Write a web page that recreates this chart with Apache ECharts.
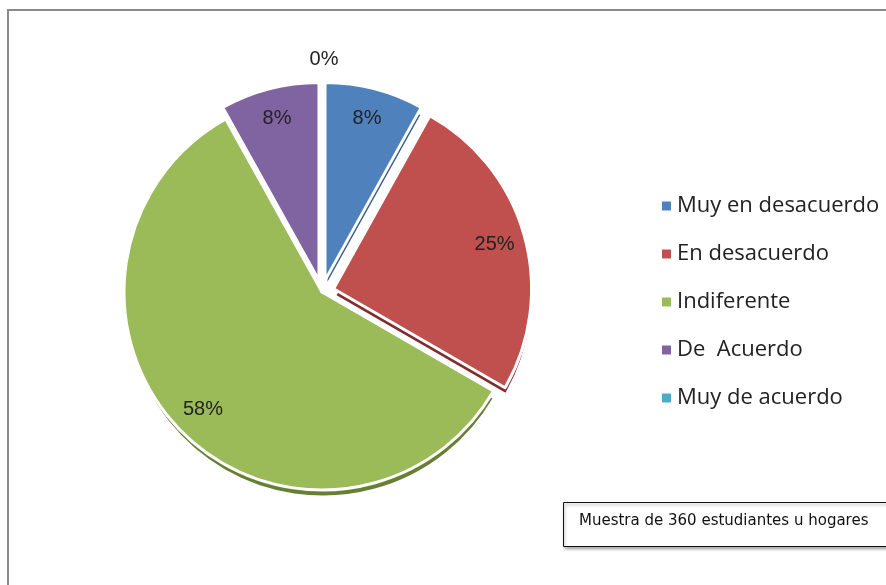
<!DOCTYPE html>
<html>
<head>
<meta charset="utf-8">
<style>
  html, body { margin: 0; padding: 0; background: #fff; }
  #chart { width: 886px; height: 585px; }
</style>
<script src="https://cdn.jsdelivr.net/npm/echarts@6/dist/echarts.min.js"></script>
</head>
<body>
<div id="chart"></div>
<script>
  // categorias y valores (%)
  var categories = ['Muy en desacuerdo', 'En desacuerdo', 'Indiferente', 'De  Acuerdo', 'Muy de acuerdo'];
  var values = [8, 25, 58, 8, 0];
  var colors = ['#4F81BD', '#C0504D', '#9BBB59', '#8064A2', '#4BACC6'];
  var sideColors = ['#345a88', '#7e2f2d', '#667f35', '#55406f', '#2f7f94'];
  var exploded = [true, true, false, true, false];
  var note = 'Muestra de 360 estudiantes u hogares';

  var center = [322, 292];
  var R = 198;

  function slices(colorList, withLabel) {
    return categories.map(function (c, i) {
      var d = {
        name: c,
        value: values[i],
        selected: exploded[i],
        itemStyle: { color: colorList ? colorList[i] : 'rgba(0,0,0,0)' }
      };
      if (withLabel && values[i] === 0) {
        d.label = { offset: [2, -66] };
      }
      return d;
    });
  }

  var myChart = echarts.init(document.getElementById('chart'));

  var option = {
    backgroundColor: '#fff',
    animation: false,
    legend: {
      orient: 'vertical',
      left: 655,
      top: 190,
      itemWidth: 11,
      itemHeight: 11,
      itemGap: 26,
      icon: 'rect',
      textStyle: { fontSize: 22, color: '#222', fontFamily: 'Open Sans' },
      data: categories.map(function (c, i) {
        return { name: c, itemStyle: { color: colors[i] } };
      })
    },
    graphic: [
      {
        type: 'rect',
        shape: { x: 8, y: 10, width: 900, height: 600 },
        style: { fill: 'none', stroke: '#8a8a8a', lineWidth: 2 },
        z: 0
      },
      {
        type: 'rect',
        shape: { x: 563.5, y: 502.5, width: 340, height: 44 },
        style: { fill: '#fff', stroke: '#111', lineWidth: 1,
          shadowBlur: 3, shadowOffsetX: 1, shadowOffsetY: 2, shadowColor: 'rgba(0,0,0,0.35)' },
        z: 10
      },
      {
        type: 'text',
        left: 579,
        top: 514,
        style: { text: note, fontSize: 15, fontFamily: 'DejaVu Sans', fill: '#111' },
        z: 11
      }
    ],
    series: [
      {
        // cara superior
        type: 'pie',
        name: 'top',
        z: 3,
        center: center,
        radius: R,
        startAngle: 90,
        clockwise: true,
        selectedMode: 'multiple',
        selectedOffset: 12,
        avoidLabelOverlap: false,
        silent: true,
        label: { show: false },
        labelLine: { show: false },
        itemStyle: { borderColor: '#fff', borderWidth: 3 },
        data: slices(colors, false)
      },
      {
        // lado (efecto 3D)
        type: 'pie',
        name: 'side',
        z: 2,
        center: [center[0] + 1, center[1] + 7],
        radius: R,
        startAngle: 90,
        clockwise: true,
        selectedMode: 'multiple',
        selectedOffset: 12,
        silent: true,
        legendHoverLink: false,
        label: { show: false },
        labelLine: { show: false },
        itemStyle: { borderColor: '#fff', borderWidth: 3 },
        data: slices(sideColors, false)
      },
      {
        // etiquetas
        type: 'pie',
        name: 'labels',
        z: 4,
        center: center,
        radius: [138, 190],
        startAngle: 90,
        clockwise: true,
        selectedMode: 'multiple',
        selectedOffset: 12,
        silent: true,
        legendHoverLink: false,
        avoidLabelOverlap: false,
        label: {
          show: true,
          position: 'inside',
          formatter: '{c}%',
          fontSize: 20,
          color: '#222',
          fontFamily: 'Liberation Sans'
        },
        labelLine: { show: false },
        itemStyle: { borderWidth: 0 },
        data: slices(null, true)
      }
    ]
  };

  myChart.setOption(option);
  window.addEventListener('resize', function () { myChart.resize(); });
</script>
</body>
</html>
